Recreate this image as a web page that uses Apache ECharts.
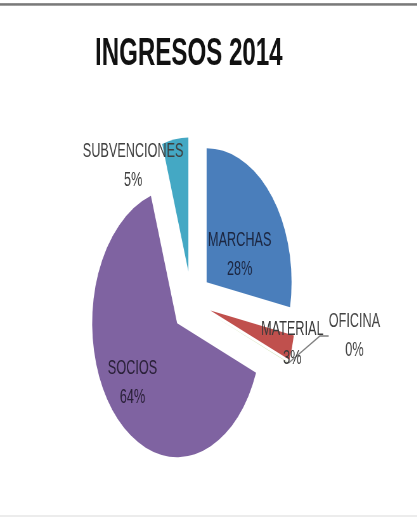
<!DOCTYPE html>
<html>
<head>
<meta charset="utf-8">
<script src="https://cdn.jsdelivr.net/npm/echarts@6/dist/echarts.min.js"></script>
<style>
  html, body { margin: 0; padding: 0; background: #fff; overflow: hidden; }
  #wrap { position: relative; width: 417px; height: 518px; overflow: hidden; }
  #chart { position: absolute; left: 0; top: 0; width: 658px; height: 518px;
           transform: scaleX(0.634); transform-origin: 0 0; }
  #topline { position: absolute; left: 0; top: 3px; width: 417px; height: 3px;
             background: linear-gradient(#9a9a9a, #7a7a7a, #b5b5b5); }
  #botline { position: absolute; left: 0; top: 515px; width: 417px; height: 2px; background: #ececec; }
</style>
</head>
<body>
<div id="wrap">
  <div id="chart"></div>
  <div id="topline"></div>
  <div id="botline"></div>
</div>
<script>
const categories = ['MARCHAS', 'MATERIAL', 'OFICINA', 'SOCIOS', 'SUBVENCIONES'];
const values = [28, 3, 0.05, 64, 5];
const colors = ['#4a7ebb', '#c0504d', '#9bbb59', '#7f63a1', '#44a8c4'];
const titleText = 'INGRESOS 2014';

// label centres (unscaled chart px)
const labelPos = {
  'MARCHAS': [378, 255],
  'MATERIAL': [461, 344],
  'OFICINA': [559, 336],
  'SOCIOS': [209, 383],
  'SUBVENCIONES': [210, 166]
};
const labelColors = {
  'MARCHAS': '#1c2640',
  'SOCIOS': '#2a2038',
  'MATERIAL': '#3a3a3a',
  'OFICINA': '#454545',
  'SUBVENCIONES': '#404040'
};

const pieCenter = [302, 302];
const pieRadius = 134;
const explode = 31;

const chart = echarts.init(document.getElementById('chart'), null, { renderer: 'canvas' });

const total = values.reduce((a, b) => a + b, 0);
let cum = 0;
const series = categories.map((cat, k) => {
  const mid = (cum + values[k] / 2) / total * 2 * Math.PI;
  cum += values[k];
  const c = [pieCenter[0] + explode * Math.sin(mid), pieCenter[1] - explode * Math.cos(mid)];
  return {
    type: 'pie',
    name: cat,
    center: c,
    radius: pieRadius,
    startAngle: 90,
    clockwise: true,
    minAngle: 0,
    percentPrecision: 0,
    avoidLabelOverlap: false,
    emphasis: { disabled: true },
    silent: true,
    itemStyle: { borderWidth: 0 },
    label: {
      show: true,
      position: cat === 'OFICINA' ? 'outside' : 'inside',
      formatter: '{b}\n{d}%',
      fontFamily: 'Liberation Sans',
      fontSize: 20,
      lineHeight: 29,
      align: 'center',
      color: labelColors[cat]
    },
    labelLine: { show: cat === 'OFICINA', length: 8, length2: 14, lineStyle: { color: '#7f7f7f', width: 1.5 } },
    labelLayout: function (params) {
      if (params.dataIndex !== k) return {};
      const p = labelPos[cat];
      return { x: p[0], y: p[1], align: 'center', verticalAlign: 'middle' };
    },
    data: categories.map((name, i) => i === k ? {
      name: name, value: values[i], itemStyle: { color: colors[i] }
    } : {
      name: name, value: values[i],
      itemStyle: { color: colors[i], opacity: 0 },
      label: { show: false }, labelLine: { show: false }
    })
  };
});

chart.setOption({
  animation: false,
  backgroundColor: '#fff',
  title: {
    text: titleText,
    left: 150,
    top: 36,
    padding: 0,
    textStyle: {
      fontFamily: 'Liberation Sans',
      fontWeight: 'bold',
      fontSize: 38,
      color: '#111'
    }
  },
  series: series
});
</script>
</body>
</html>
